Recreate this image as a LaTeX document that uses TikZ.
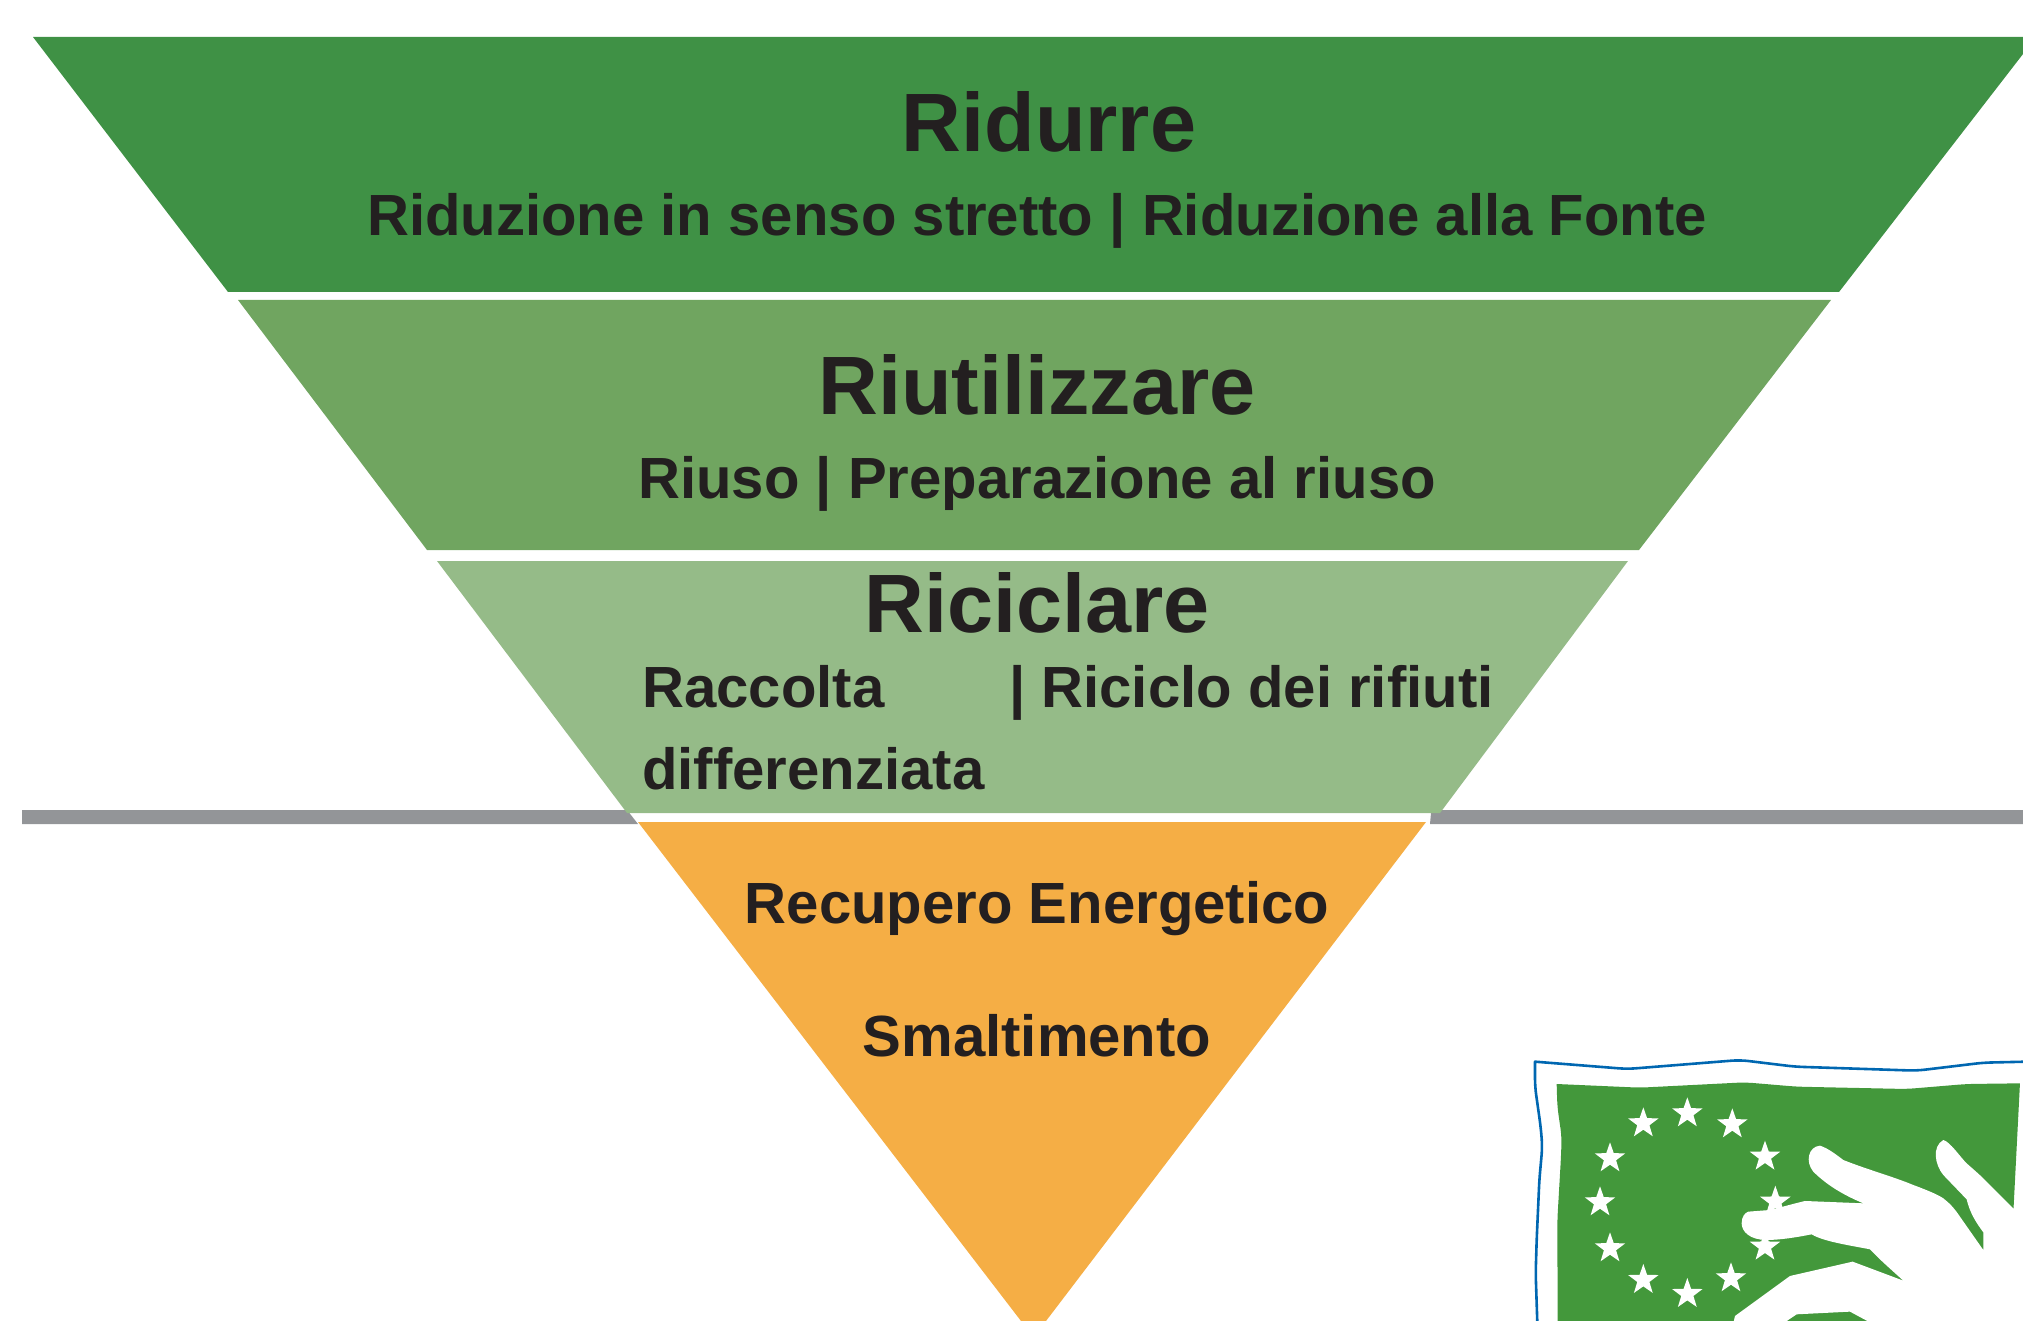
\documentclass[tikz,border=0pt]{standalone}
\usepackage{fontspec}
\setmainfont{Liberation Sans}
\usetikzlibrary{shapes.geometric}
\definecolor{lvA}{HTML}{3F9145}
\definecolor{lvB}{HTML}{70A560}
\definecolor{lvC}{HTML}{95BB88}
\definecolor{lvD}{HTML}{F5AE45}
\definecolor{barc}{HTML}{939598}
\definecolor{ink}{HTML}{231F20}
\definecolor{logog}{HTML}{43983B}
\definecolor{logob}{HTML}{0067B1}
\tikzset{
  big/.style={font=\fontsize{82.8}{82.8}\bfseries\selectfont,text=ink,anchor=base,inner sep=0pt},
  sub/.style={font=\fontsize{58.1}{58.1}\bfseries\selectfont,text=ink,anchor=base,inner sep=0pt},
  subl/.style={sub,anchor=base west},
  eustar/.style={star,star points=5,star point ratio=2.5,fill=white,inner sep=0pt,minimum size=32pt}
}
\begin{document}
\begin{tikzpicture}[x=1pt,y=-1pt]
\useasboundingbox (0,0) rectangle (2023,1321);
\fill[barc] (22,810) -- (627,810) -- (638,824) -- (22,824) -- cycle;
\fill[barc] (1430,824) -- (1431,813) -- (1437,810) -- (2023,810) -- (2023,824) -- cycle;
\fill[lvA] (33,37) -- (2023,37) -- (2023,54) -- (1839,292) -- (228,292) -- cycle;
\fill[lvB] (238,300) -- (1831,300) -- (1639,550) -- (427,550) -- cycle;
\fill[lvC] (437,561) -- (1628,561) -- (1440,813) -- (627,813) -- cycle;
\fill[lvD] (638,822) -- (1426,822) -- (1046,1321) -- (1021,1321) -- cycle;
\node[big] (a1) at (1049,152) {Ridurre};
\node[sub] (a2) at (1037,236) {Riduzione in senso stretto | Riduzione alla Fonte};
\node[big] (b1) at (1037,414) {Riutilizzare};
\node[sub] (b2) at (1037,498) {Riuso | Preparazione al riuso};
\node[big] (c1) at (1037,632) {Riciclare};
\node[subl] (c2) at (642,707) {Raccolta};
\node[subl] (c3) at (1009,707) {| Riciclo dei rifiuti};
\node[subl] (c4) at (642,789) {differenziata};
\node[sub] (d1) at (1037,923) {Recupero Energetico};
\node[sub] (d2) at (1037,1056) {Smaltimento};
% logo
\begin{scope}[shift={(1500,1040)},x=0.3333pt,y=-0.3333pt]
\draw[logob,line width=2.6pt,line join=round]
 (1580,65) [rounded corners=8pt] -- (1450,68) -- (1250,92) -- (885,80) -- (720,60) -- (382,87) [sharp corners] -- (105,65) [rounded corners=8pt] -- (105,140) -- (122,260) -- (127,320) -- (118,420) -- (110,600) -- (107,700) -- (112,850);
\fill[logog] (170,132) [rounded corners=8pt] -- (420,143) -- (735,127) -- (890,140) -- (1220,147) -- (1400,132) [sharp corners] -- (1560,130) -- (1540,520) -- (1540,850) -- (173,850) [rounded corners=8pt] -- (172,540) -- (183,350) -- (185,290) -- (172,200) [sharp corners] -- cycle;
\foreach \n/\px/\py/\r in {1/430/250/0,2/562/220/0,3/697/253/0,4/795/350/0,5/826/485/0,6/795/620/0,7/693/715/0,8/562/762/0,9/430/720/0,10/330/625/0,11/300/487/0,12/330/355/0}{
  \node[eustar,rotate=\r] (s\n) at (\px,\py) {};
}
\fill[white] (960,317) .. controls (985,325) and (1010,345) .. (1030,360) .. controls (1100,388) and (1180,410) .. (1240,435) .. controls (1280,450) and (1310,462) .. (1330,475) .. controls (1355,495) and (1365,508) .. (1380,530) -- (1450,630) -- (1450,577) .. controls (1430,550) and (1410,520) .. (1400,478) -- (1330,405) .. controls (1305,375) and (1295,320) .. (1330,300) .. controls (1350,305) and (1380,350) .. (1400,370) .. controls (1425,392) and (1440,405) .. (1455,420) -- (1540,505) -- (1580,505) -- (1580,850) -- (1115,850) -- (1050,815) -- (890,823) -- (850,850) -- (700,850) -- (705,828) -- (870,708) -- (1058,665) -- (1210,722) .. controls (1175,690) and (1140,660) .. (1110,628) .. controls (1060,618) and (970,605) .. (935,583) .. controls (890,592) and (840,600) .. (800,600) .. controls (750,600) and (725,575) .. (725,550) .. controls (725,530) and (735,518) .. (745,515) -- (810,510) .. controls (850,500) and (885,490) .. (915,483) -- (1090,490) .. controls (1030,465) and (980,435) .. (940,395) .. controls (915,365) and (925,320) .. (960,317) -- cycle;
\end{scope}
\end{tikzpicture}
\end{document}
